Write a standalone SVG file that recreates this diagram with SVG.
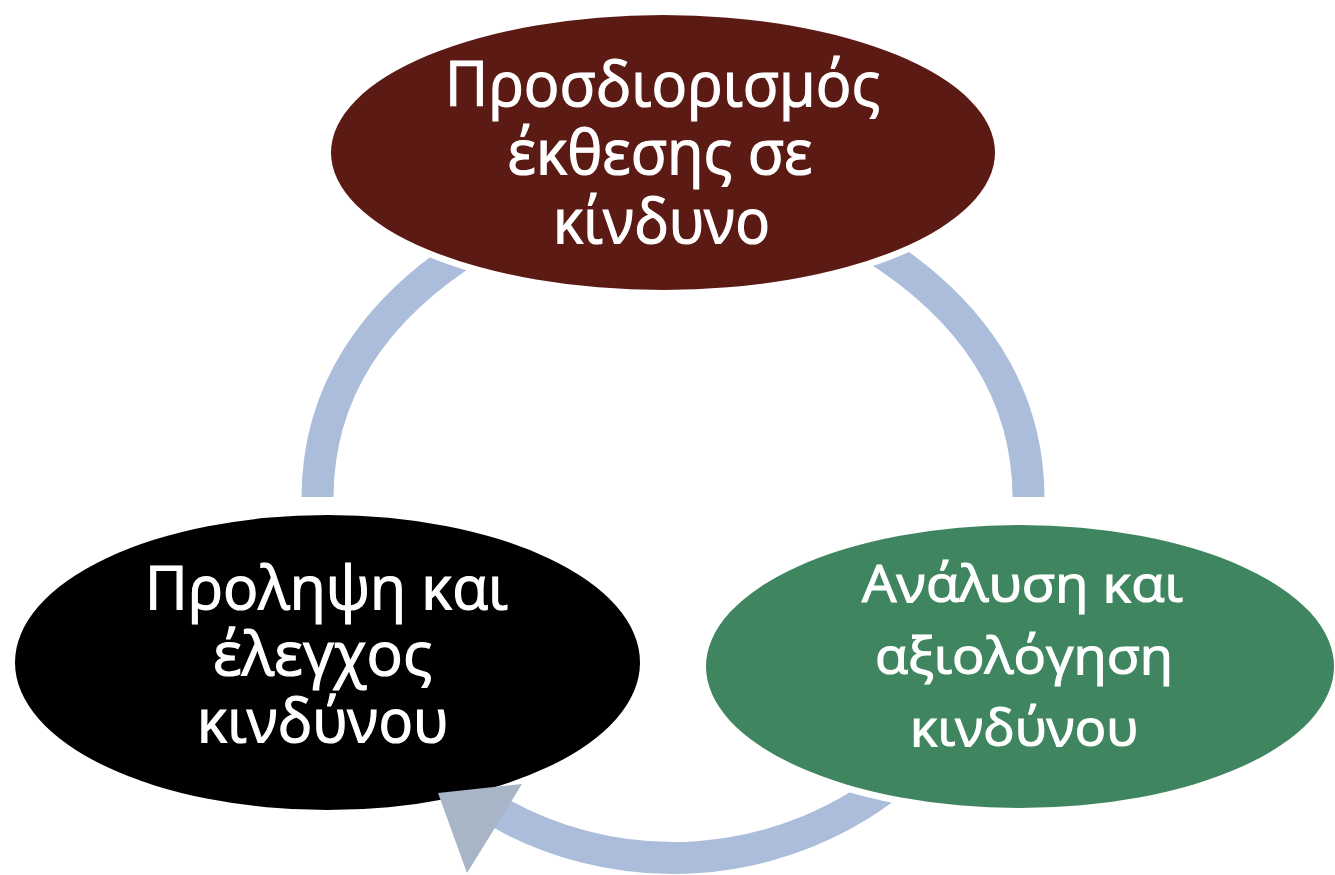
<svg xmlns="http://www.w3.org/2000/svg" width="1335" height="875" viewBox="0 0 1335 875">
  <style>
    .band { fill: none; stroke: #abbddb; stroke-width: 32; stroke-linecap: butt; }
    .halo { fill: #ffffff; }
    .lbl { fill: #ffffff; stroke: #ffffff; stroke-width: 1.2; font-family: "Open Sans", "Noto Sans", "DejaVu Sans", sans-serif; text-anchor: middle; }
    .big { font-size: 62px; }
    .mid { font-size: 60px; }
    .sm { font-size: 52px; }
  </style>
  <rect x="0" y="0" width="1335" height="875" fill="#ffffff"/>
  <g id="connectors">
    <path class="band" d="M 317.5 497 C 318 395, 371 310, 476 245"/>
    <path class="band" d="M 1028.5 497 C 1028 395, 975 310, 870 245"/>
    <path class="band" d="M 901.5 774.8 A 355.5 355.5 0 0 1 484.6 804"/>
  </g>
  <g id="node-top">
    <ellipse class="halo" cx="663" cy="152.5" rx="339" ry="144.5"/>
    <ellipse cx="663" cy="152.5" rx="332" ry="137.5" fill="#5c1a15"/>
    <text class="lbl big" x="662.5" y="106" textLength="435" lengthAdjust="spacingAndGlyphs">Προσδιορισμός</text>
    <text class="lbl big" x="660" y="174" textLength="305" lengthAdjust="spacingAndGlyphs">έκθεσης σε</text>
    <text class="lbl big" x="661.5" y="243" textLength="217" lengthAdjust="spacingAndGlyphs">κίνδυνο</text>
  </g>
  <g id="node-right">
    <ellipse class="halo" cx="1020" cy="666.5" rx="321" ry="148.5"/>
    <ellipse cx="1020" cy="666.5" rx="314" ry="141.5" fill="#3f8660"/>
    <text class="lbl sm" x="1022.5" y="602" textLength="321" lengthAdjust="spacingAndGlyphs">Ανάλυση και</text>
    <text class="lbl sm" x="1024" y="674" textLength="298" lengthAdjust="spacingAndGlyphs">αξιολόγηση</text>
    <text class="lbl sm" x="1024" y="746" textLength="228" lengthAdjust="spacingAndGlyphs">κινδύνου</text>
  </g>
  <g id="node-left">
    <ellipse cx="327.5" cy="662.5" rx="312.5" ry="147.5" fill="#000000"/>
    <text class="lbl mid" x="326.5" y="609" textLength="363" lengthAdjust="spacingAndGlyphs">Προληψη και</text>
    <text class="lbl mid" x="322.5" y="675" textLength="219" lengthAdjust="spacingAndGlyphs">έλεγχος</text>
    <text class="lbl mid" x="322.5" y="742" textLength="251" lengthAdjust="spacingAndGlyphs">κινδύνου</text>
  </g>
  <g id="arrowhead">
    <polygon points="438,793 522,784 467,873" fill="#a7b5c6"/>
  </g>
</svg>
